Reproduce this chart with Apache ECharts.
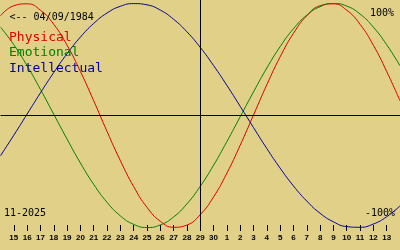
<!DOCTYPE html>
<html>
<head>
<meta charset="utf-8">
<script src="https://cdn.jsdelivr.net/npm/echarts@6/dist/echarts.min.js"></script>
<style>
html,body{margin:0;padding:0;background:#e0d088;}
#chart{width:400px;height:250px;}
</style>
</head>
<body>
<div id="chart"></div>
<script>
// day positions (0 = first labelled day)
const days = [-1,0,1,2,3,4,5,6,7,8,9,10,11,12,13,14,15,16,17,18,19,20,21,22,23,24,25,26,27,28,29];
const tickDays = [0,1,2,3,4,5,6,7,8,9,10,11,12,13,14,15,16,17,18,19,20,21,22,23,24,25,26,27,28];
const dayLabels = ['15','16','17','18','19','20','21','22','23','24','25','26','27','28','29','30','1','2','3','4','5','6','7','8','9','10','11','12','13'];
const todayIndex = 14;

const physical = [89.0,98.0,99.7,94.0,81.4,62.7,39.3,13.1,-14.2,-40.3,-63.5,-82.0,-94.4,-99.8,-97.8,-88.5,-72.7,-51.5,-26.5,0.5,27.5,52.4,73.4,89.0,98.0,99.7,94.0,81.4,62.7,39.3,13.1];
const emotional = [78.9,63.2,44.4,23.3,1.1,-21.1,-42.4,-61.5,-77.5,-89.6,-97.2,-100.0,-97.7,-90.6,-78.9,-63.2,-44.4,-23.3,-1.1,21.1,42.4,61.5,77.5,89.6,97.2,100.0,97.7,90.6,78.9,63.2,44.4];
const intellectual = [-35.9,-17.6,1.3,20.2,38.4,55.2,70.0,82.2,91.5,97.5,99.9,98.8,94.1,85.9,74.7,60.8,44.6,26.9,8.2,-10.8,-29.5,-47.0,-62.9,-76.4,-87.3,-94.9,-99.2,-99.8,-96.9,-90.4,-80.7];

const seriesNames = ['Physical','Emotional','Intellectual'];
const seriesColors = ['#e00000','#008000','#0000a0'];
const birthText = '<-- 04/09/1984';
const monthText = '11-2025';
const topText = '100%';
const bottomText = '-100%';

const chart = echarts.init(document.getElementById('chart'), null, {renderer:'canvas'});
const mono = "'DejaVu Sans Mono', monospace";
function pairs(vals){ return days.map((d,i)=>[d, vals[i]]); }
const allVals = [physical, emotional, intellectual];

chart.setOption({
  backgroundColor: '#e0d088',
  animation: false,
  grid: {left: 0.5, width: 400, top: 0, height: 231},
  xAxis: {
    type: 'value', min: -1, max: 29, position: 'bottom',
    axisLine: {show: false, onZero: false},
    splitLine: {show: false},
    axisTick: {show: true, inside: true, length: 6, customValues: tickDays, lineStyle: {color: '#000', width: 1}},
    axisLabel: {show: true, customValues: tickDays, margin: 3, color: '#000', hideOverlap: false,
      fontFamily: "'Liberation Sans', Arial, sans-serif", fontWeight: 'bold', fontSize: 8,
      formatter: function(v){ return dayLabels[v] || ''; }}
  },
  yAxis: {
    type: 'value', min: -103.125, max: 103.125, show: false,
    splitLine: {show: false}
  },
  legend: {
    orient: 'vertical', left: 4, top: 31, padding: 0,
    itemWidth: 0, itemHeight: 13, itemGap: 2.5, icon: 'rect',
    selectedMode: false,
    textStyle: {fontFamily: mono, fontSize: 13},
    data: seriesNames.map((n,i)=>({name: n, textStyle: {color: seriesColors[i]}}))
  },
  graphic: [
    {type: 'text', left: 9.5, top: 12.7, style: {text: birthText, font: "10px " + mono, fill: '#000'}},
    {type: 'text', right: 6, top: 8, style: {text: topText, font: "10px " + mono, fill: '#000'}},
    {type: 'text', right: 5, top: 208, style: {text: bottomText, font: "10px " + mono, fill: '#000'}},
    {type: 'text', left: 4, top: 208, style: {text: monthText, font: "10px " + mono, fill: '#000'}}
  ],
  series: seriesNames.map((n,i)=>({
    name: n, type: 'line', data: pairs(allVals[i]), smooth: true, showSymbol: false,
    color: seriesColors[i], lineStyle: {width: 1, color: seriesColors[i]},
    silent: true,
    markLine: i === 0 ? {
      silent: true, symbol: ['none','none'], label: {show: false},
      lineStyle: {color: '#000', width: 1, type: 'solid'},
      data: [{yAxis: 0}, {xAxis: todayIndex}]
    } : undefined
  }))
});
</script>
</body>
</html>
